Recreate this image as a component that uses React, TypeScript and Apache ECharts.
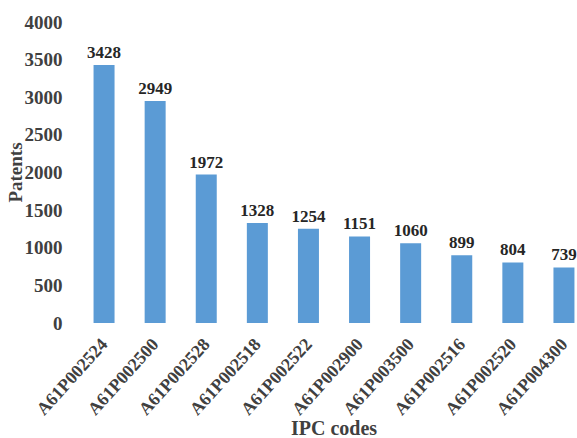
import React, { useEffect, useRef } from "react";
import * as echarts from "echarts";

const categories = [
  "A61P002524",
  "A61P002500",
  "A61P002528",
  "A61P002518",
  "A61P002522",
  "A61P002900",
  "A61P003500",
  "A61P002516",
  "A61P002520",
  "A61P004300",
];
const values = [3428, 2949, 1972, 1328, 1254, 1151, 1060, 899, 804, 739];
const yMin = 0;
const yMax = 4000;
const yInterval = 500;

const FONT = "'Liberation Serif', 'Times New Roman', serif";
const TEXT = "#404040";

export default function App() {
  const ref = useRef<HTMLDivElement>(null);
  useEffect(() => {
    if (!ref.current) return;
    const chart = echarts.init(ref.current, undefined, { renderer: "svg" });
    chart.setOption({
      animation: false,
      grid: {
        left: 78.5,
        top: 22,
        width: 511,
        height: 301,
        containLabel: false,
        outerBoundsMode: "none",
      },
      xAxis: {
        type: "category",
        data: categories,
        name: "IPC codes",
        nameLocation: "middle",
        nameGap: 105,
        nameMoveOverlap: false,
        nameTextStyle: {
          fontFamily: FONT,
          fontWeight: "bold",
          fontSize: 20,
          lineHeight: 16,
          color: TEXT,
          verticalAlign: "middle",
        },
        axisLine: { show: false },
        axisTick: { show: false },
        axisLabel: {
          rotate: 48,
          interval: 0,
          margin: 18,
          fontFamily: FONT,
          fontWeight: "bold",
          fontSize: 18,
          color: TEXT,
        },
      },
      yAxis: {
        type: "value",
        min: yMin,
        max: yMax,
        interval: yInterval,
        name: "Patents",
        nameLocation: "middle",
        nameRotate: 90,
        nameGap: 63,
        nameMoveOverlap: false,
        nameTextStyle: { fontFamily: FONT, fontWeight: "bold", fontSize: 19, color: TEXT, verticalAlign: "middle" },
        axisLine: { show: false },
        axisTick: { show: false },
        splitLine: { show: false },
        axisLabel: {
          margin: 16,
          formatter: (v: number) => String(v),
          fontFamily: FONT,
          fontWeight: "bold",
          fontSize: 19,
          color: TEXT,
        },
      },
      series: [
        {
          type: "bar",
          data: values,
          barWidth: 21,
          itemStyle: { color: "#5B9BD5" },
          label: {
            show: true,
            position: "top",
            distance: 4,
            fontFamily: FONT,
            fontWeight: "bold",
            fontSize: 17,
            color: "#262626",
          },
        },
      ],
    });
    return () => chart.dispose();
  }, []);
  return (
    <div
      ref={ref}
      style={{ position: "fixed", left: 0, top: 0, width: 577, height: 438, background: "#fff" }}
    />
  );
}
